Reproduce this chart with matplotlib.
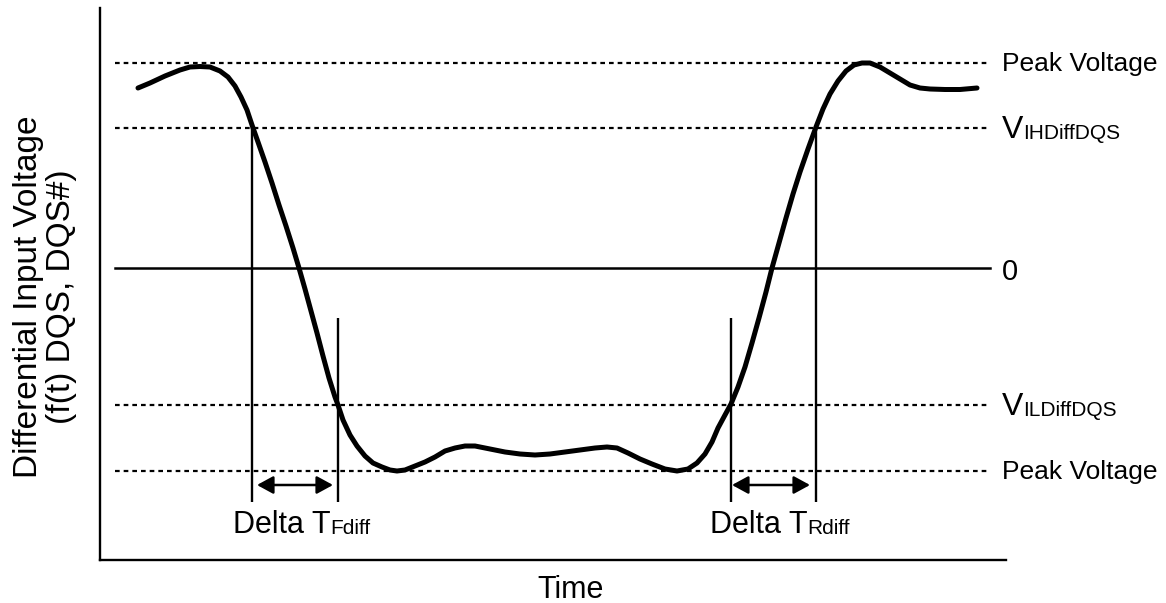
import matplotlib
matplotlib.use("Agg")
import matplotlib.pyplot as plt

plt.rcParams['font.family'] = ['Liberation Sans', 'DejaVu Sans']

# ---- data -------------------------------------------------------------
time = [3.8, 5.0, 6.5, 8.0, 9.0, 10.0, 11.0, 12.0, 12.8, 13.5, 14.1, 14.7,
        15.2, 15.8, 16.5, 17.2, 17.9, 18.6, 19.3, 19.9, 20.5, 21.1, 21.7,
        22.3, 22.9, 23.5, 23.8, 24.3, 25.0, 25.7, 26.5, 27.3, 28.2, 29.0,
        29.7, 30.5, 31.5, 32.5, 33.5, 34.5, 35.5, 36.5, 37.5, 39.0, 40.5,
        42.0, 43.5, 45.0, 46.5, 48.0, 49.5, 50.7, 51.7, 52.8, 54.0, 55.2,
        56.5, 57.7, 58.8, 59.7, 60.5, 61.2, 61.8, 62.5, 63.1, 63.8, 64.5,
        65.2, 65.9, 66.6, 67.2, 67.9, 68.6, 69.3, 70.0, 70.8, 71.6, 72.3,
        73.0, 73.8, 74.6, 75.4, 76.2, 77.0, 78.0, 79.0, 80.0, 81.0, 82.0,
        83.0, 84.5, 86.0, 87.7]
voltage = [1.80, 1.85, 1.92, 1.98, 2.01, 2.015, 2.01, 1.97, 1.91, 1.82, 1.71,
           1.58, 1.43, 1.26, 1.06, 0.85, 0.63, 0.42, 0.20, 0.0, -0.21, -0.43,
           -0.65, -0.88, -1.10, -1.29, -1.37, -1.52, -1.67, -1.78, -1.88,
           -1.95, -1.99, -2.02, -2.03, -2.02, -1.98, -1.94, -1.89, -1.83,
           -1.80, -1.78, -1.78, -1.81, -1.84, -1.86, -1.87, -1.86, -1.84,
           -1.82, -1.80, -1.79, -1.80, -1.85, -1.91, -1.96, -2.01, -2.03,
           -2.01, -1.95, -1.86, -1.74, -1.60, -1.47, -1.36, -1.19, -0.99,
           -0.75, -0.50, -0.24, 0.0, 0.25, 0.50, 0.74, 0.96, 1.19, 1.41,
           1.59, 1.74, 1.87, 1.97, 2.03, 2.05, 2.05, 2.01, 1.95, 1.89, 1.83,
           1.80, 1.79, 1.785, 1.785, 1.80]

level_values = [2.05, 1.40, 0.0, -1.37, -2.03]
level_main = ['Peak Voltage', 'V', '0', 'V', 'Peak Voltage']
level_sub = ['', 'IHDiffDQS', '', 'ILDiffDQS', '']
level_dashed = [True, True, False, True, True]

# crossing times (fall VIH, fall VIL, rise VIL, rise VIH)
t_fall_vih, t_fall_vil = 15.2, 23.8
t_rise_vil, t_rise_vih = 63.1, 71.6
delta_labels = [('Delta T', 'Fdiff'), ('Delta T', 'Rdiff')]

# ---- style ------------------------------------------------------------
level_size = [19, 23, 21, 23, 19]
level_shift = [-5.5, -7.2, -8.3, -7.2, -6.0]   # points, baseline below line
SUB = 15
DELTA = 22
LABEL = 22
YLABEL = 24

# ---- figure -----------------------------------------------------------
W, H = 1166, 603
fig = plt.figure(figsize=(W / 100, H / 100), dpi=100)
ax = fig.add_axes([100 / W, (H - 560) / H, 906 / W, 552 / H])
ax.set_xlim(0, 90.6)
ax.set_ylim(-2.92, 2.60)
for s in ['top', 'right']:
    ax.spines[s].set_visible(False)
for s in ['left', 'bottom']:
    ax.spines[s].set_linewidth(1.7)
ax.set_xticks([])
ax.set_yticks([])


def two_size(xy, big, small, big_fs, small_fs, dy_pts=0.0):
    t1 = ax.annotate(big, xy=xy, xycoords='data', xytext=(0, dy_pts),
                     textcoords='offset points', ha='left', va='baseline',
                     fontsize=big_fs, annotation_clip=False)
    if small:
        ax.annotate(small, xy=(1, 0), xycoords=t1,
                    xytext=(0, 0.21 * (big_fs - small_fs)),
                    textcoords='offset points', ha='left', va='bottom',
                    fontsize=small_fs, annotation_clip=False)
    return t1


# level lines and labels
for v, m, sub, dashed, fs, sh in zip(level_values, level_main, level_sub,
                                     level_dashed, level_size, level_shift):
    if dashed:
        ax.plot([1.5, 89.0], [v, v], color='black', lw=1.6,
                linestyle=(0, (2.1, 1.8)), solid_capstyle='butt')
    else:
        ax.plot([1.5, 89.0], [v, v], color='black', lw=1.8)
    two_size((90.2, v), m, sub, fs, SUB, dy_pts=sh)

# vertical markers
vbot = -2.34
ax.vlines([t_fall_vih, t_rise_vih], vbot, level_values[1], color='black', lw=1.7)
ax.vlines([t_fall_vil, t_rise_vil], vbot, -0.50, color='black', lw=1.7)

# arrows
arrow_y = -2.17
for a, b in [(t_fall_vih + 0.5, t_fall_vil - 0.5), (t_rise_vil + 0.1, t_rise_vih - 0.6)]:
    ax.annotate('', xy=(b, arrow_y), xytext=(a, arrow_y),
                arrowprops=dict(arrowstyle='<|-|>,head_length=0.55,head_width=0.3',
                                color='black', lw=1.8, shrinkA=0, shrinkB=0,
                                mutation_scale=18))

# delta labels
for x0, (m, sub) in zip([13.3, 61.0], delta_labels):
    two_size((x0, -2.65), m, sub, DELTA, SUB)

# waveform
ax.plot(time, voltage, color='black', lw=3.6, solid_joinstyle='round',
        solid_capstyle='round')

# axis labels
fig.text(571 / W, 1 - 598 / H, 'Time', ha='center', va='baseline', fontsize=LABEL)
fig.text(45 / W, 1 - 297 / H, 'Differential Input Voltage\n(f(t) DQS, DQS#)',
         rotation=90, ha='center', va='center', multialignment='center',
         fontsize=YLABEL, linespacing=1.12)

fig.savefig('out.png', dpi=100)
